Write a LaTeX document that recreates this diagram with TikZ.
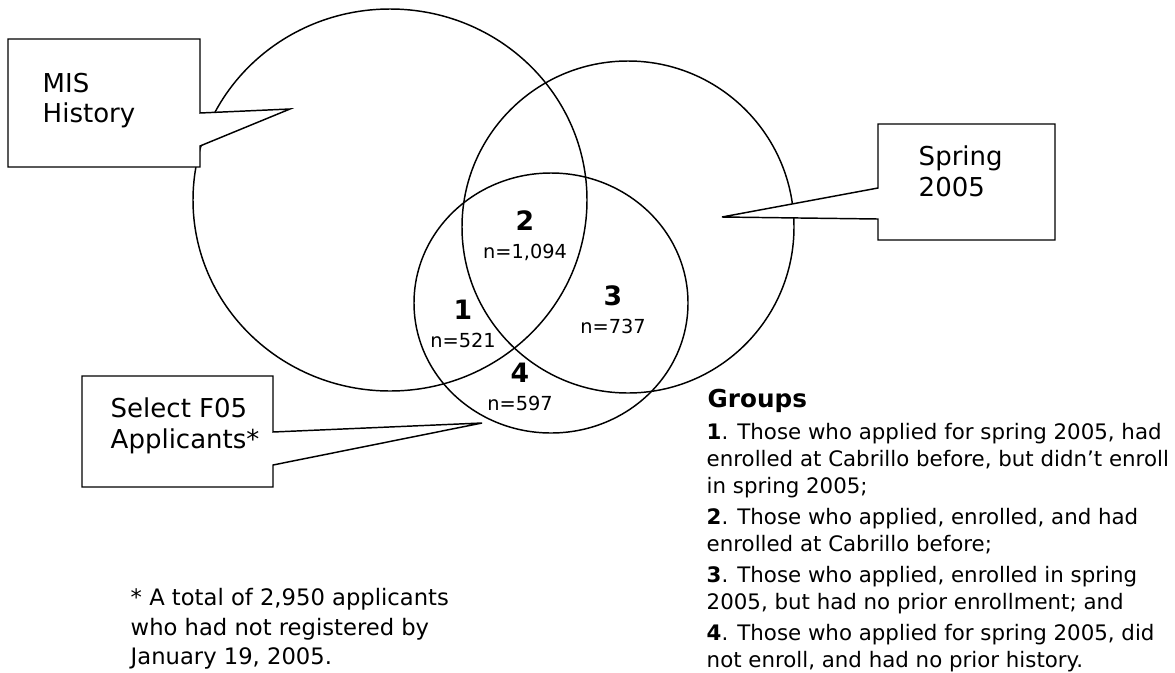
\documentclass[tikz,border=0pt]{standalone}
\usepackage{fontspec}
\setmainfont{DejaVu Sans}
\tikzset{
  callout/.style={draw,fill=white,line join=miter},
  boxtext/.style={anchor=north west,inner sep=0pt,align=left,font=\fontsize{19.5pt}{23pt}\selectfont},
  region/.style={anchor=north,inner sep=0pt,align=center,font=\fontsize{14.5pt}{21pt}\selectfont},
  groupnum/.style={font=\fontsize{20pt}{20pt}\selectfont\bfseries}
}
\begin{document}
\begin{tikzpicture}[x=0.75pt,y=-0.75pt,line width=1.1pt]
\useasboundingbox (0,0) rectangle (1175,672);
\draw (390,200) ellipse [x radius=197, y radius=191];
\draw (628,227) circle [radius=166];
\draw (551,303) ellipse [x radius=137, y radius=130];
\draw[callout] (8,39) -- (200,39) -- (200,113) -- (290,109) -- (200,146) -- (200,167) -- (8,167) -- cycle;
\node[boxtext] (mis) at (42,72) {MIS\\History};
\draw[callout] (878,124) -- (1055,124) -- (1055,240) -- (878,240) -- (878,219) -- (722,217) -- (878,188) -- cycle;
\node[boxtext] (spring) at (918,145) {Spring\\2005};
\draw[callout] (82,376) -- (273,376) -- (273,432) -- (482,423) -- (273,465) -- (273,487) -- (82,487) -- cycle;
\node[boxtext] (select) at (110,397) {Select F05\\Applicants*};
\node[region] (g2) at (525,210) {{\fontsize{20pt}{20pt}\selectfont\bfseries 2}\\n=1,094};
\node[region] (g1) at (463,299) {{\fontsize{20pt}{20pt}\selectfont\bfseries 1}\\n=521};
\node[region] (g3) at (613,285) {{\fontsize{20pt}{20pt}\selectfont\bfseries 3}\\n=737};
\node[region] (g4) at (520,362) {{\fontsize{20pt}{20pt}\selectfont\bfseries 4}\\n=597};
\node[anchor=north west,inner sep=0pt,font=\fontsize{18.5pt}{22pt}\selectfont\bfseries] (groups) at (707,388) {Groups};
\node[anchor=north west,inner sep=0pt,align=left,font=\fontsize{16pt}{20pt}\selectfont] (list) at (706,423)
  {\textbf{1}. Those who applied for spring 2005, had\\
   enrolled at Cabrillo before, but didn’t enroll\\
   in spring 2005;\\[3.5pt]
   \textbf{2}. Those who applied, enrolled, and had\\
   enrolled at Cabrillo before;\\[3.5pt]
   \textbf{3}. Those who applied, enrolled in spring\\
   2005, but had no prior enrollment; and\\[3.5pt]
   \textbf{4}. Those who applied for spring 2005, did\\
   not enroll, and had no prior history.};
\node[anchor=north west,inner sep=0pt,align=left,font=\fontsize{17pt}{22pt}\selectfont] (note) at (130,588)
  {* A total of 2,950 applicants\\who had not registered by\\January 19, 2005.};
\end{tikzpicture}
\end{document}
